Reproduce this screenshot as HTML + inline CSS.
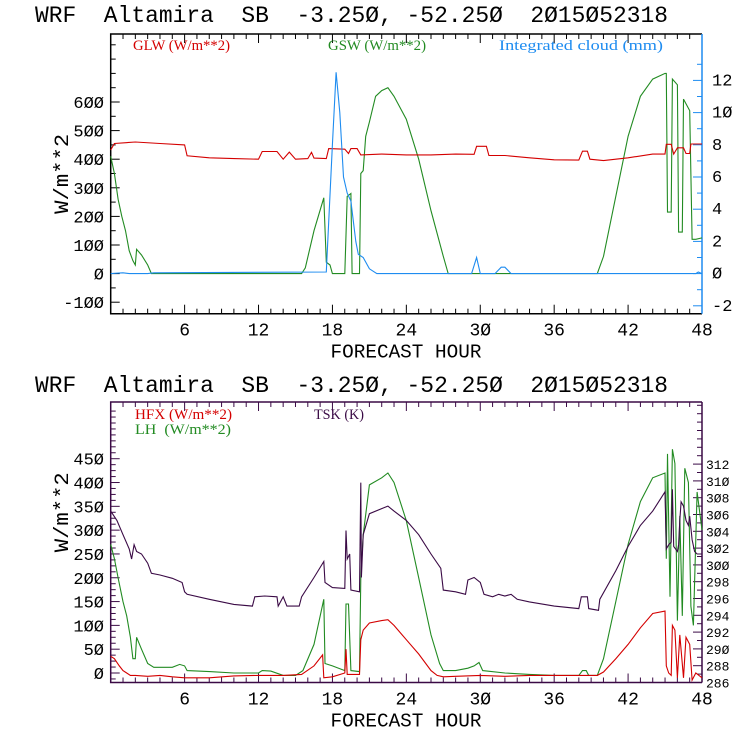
<!DOCTYPE html>
<html><head><meta charset="utf-8"><style>
html,body{margin:0;padding:0;background:#fff;}
svg{display:block;}
text{font-family:"Liberation Mono",monospace;}
.lg{font-family:"Liberation Serif",serif;font-size:15px;}
</style></head><body>
<svg id="c" width="740" height="740" viewBox="0 0 740 740" xmlns="http://www.w3.org/2000/svg"></svg>
<script>
// ---- top panel data (hour, value) ----
const glwHours=[0,0.3,2,4,6,6.2,8,10,12,12.3,13.5,14,14.5,15,16,16.3,16.5,17.5,17.7,19,19.3,19.5,20,20.3,22,24,26,28,29.5,29.7,30.5,30.7,32,34,36,38,38.3,38.7,38.9,40,42,44,45,45.1,45.5,45.7,46,46.5,46.7,47,47.1,48];
const glwVals=[432,455,460,455,450,412,405,402,400,427,427,400,425,400,402,424,404,402,437,435,420,437,437,415,418,415,415,418,417,445,445,413,413,405,398,397,428,428,400,395,405,418,418,452,452,418,440,440,420,420,453,453];
const gswHours=[0,0.3,0.6,0.9,1.2,1.5,1.8,2,2.1,2.5,3,3.3,15.5,15.8,16.5,17.3,17.5,17.8,18,19,19.2,19.5,19.6,20.2,20.3,20.5,20.7,21,21.5,22,22.5,23,24,25,26,27,27.4,39.5,40,41,42,43,44,45,45.1,45.2,45.5,45.6,46,46.1,46.4,46.5,47,47.2,47.5,48];
const gswVals=[410,350,260,200,150,80,45,30,85,65,30,0,0,20,150,265,40,30,0,0,270,280,0,0,350,360,480,530,620,640,650,620,540,400,220,60,0,0,60,270,480,620,680,700,700,215,215,680,660,145,145,610,570,120,120,125];
const cloudHours=[0,1,1.5,3,3.5,17.5,18,18.3,18.6,18.9,19.2,19.5,19.9,20.1,20.5,21,21.6,29.3,29.7,30,31.2,31.7,32,32.5,47.5,47.7,48];
const cloudVals=[0,0.05,0,0,0.05,0.1,8,12.5,10,6,5,4.5,2,1.2,1,0.3,0,0,1,0,0,0.4,0.4,0,0,0.1,0];
// ---- bottom panel data ----
const tskHours=[0,0.5,1,1.5,1.7,1.9,2.1,2.5,3,3.3,4,5,5.8,6,6.2,8,10,11.5,11.7,12.5,13.5,13.6,14,14.3,15.3,15.5,16.5,17.3,17.4,18,19,19.1,19.2,19.4,19.5,20.2,20.3,20.35,20.5,21,22,22.5,23,24,25,26,26.8,27,28,28.8,29,29.5,30,30.3,31,31.5,32,32.5,33,34,36,38,38.2,38.7,38.8,39.6,39.7,41,42,43,44,45,45.1,45.3,45.5,45.6,45.7,46,46.1,46.2,46.3,46.5,46.7,46.9,47,47.2,47.4,47.6,48];
const tskVals=[306.4,305.3,303.6,301.9,300.7,302.4,301.6,301.3,300.2,299.0,298.8,298.4,297.9,296.8,296.5,295.9,295.3,295.1,296.2,296.3,296.2,295.1,296.2,295.1,295.1,296.2,298.5,300.4,297.9,297.3,297.2,304.1,300.7,301.3,297.0,296.8,309.8,298.5,303.6,306.1,306.7,307.0,306.4,305.3,303.6,301.3,299.6,297.0,296.8,296.5,298.2,298.5,297.9,296.5,296.2,296.5,296.3,296.5,295.9,295.6,295.1,294.8,296.2,296.2,294.8,294.6,295.9,299.3,302.2,304.7,306.4,308.7,301.9,302.4,302.7,309.0,302.2,301.6,302.4,305.3,307.5,307.0,305.3,304.7,305.8,303.0,301.6,301.3,301.3];
const hfxHours=[0,0.3,0.7,1,1.3,1.6,2,3,4,5,6,8,10,12,14,15.5,16.5,17.2,17.3,18,19,19.1,19.2,20.2,20.3,20.5,21,22,22.5,23,24,25,26,26.5,27,28,30,32,34,36,38,39.5,40,41,42,43,44,45,45.1,45.3,45.5,45.6,45.8,46,46.2,46.5,46.7,47,47.2,47.5,48];
const hfxVals=[35,30,15,5,0,-5,-5,-7,-5,-8,-10,-10,-6,-5,-5,-3,15,38,-10,-8,0,50,-3,-3,70,90,105,110,112,100,70,40,5,-5,-8,-7,-5,-7,-5,-5,-5,-5,2,30,60,95,125,130,15,0,-5,100,90,-10,80,-10,75,60,-15,0,-10];
const lhHours=[0,0.3,0.6,1,1.3,1.6,1.8,2,2.1,2.5,3,3.5,5,5.6,6,6.2,8,10,12,12.3,13,14,15,15.6,16.5,17.3,17.4,18,19,19.1,19.3,19.5,20.2,20.3,20.5,21,22,22.5,23,24,25,26,26.7,27,28,29,29.5,29.9,30.2,32,34,36,38,38.3,38.6,38.8,39.5,40,41,42,43,44,45,45.1,45.2,45.4,45.6,45.8,46,46.2,46.4,46.6,46.9,47.1,47.3,47.6,48];
const lhVals=[270,240,200,150,120,75,30,30,75,50,20,12,12,18,15,5,3,0,0,5,4,-5,-5,5,60,155,20,15,5,145,145,5,3,200,290,395,410,420,400,320,200,80,20,5,5,10,15,22,5,0,-3,-5,-5,5,5,-5,-5,30,150,270,360,410,420,240,460,160,470,440,110,330,120,430,400,140,100,380,300];
const xTicks=[6,12,18,24,30,36,42,48];
const topLeftTicks=[-100,0,100,200,300,400,500,600];
const topRightTicks=[-2,0,2,4,6,8,10,12];
const botLeftTicks=[0,50,100,150,200,250,300,350,400,450];
const botRightTicks=[286,288,290,292,294,296,298,300,302,304,306,308,310,312];

const NS='http://www.w3.org/2000/svg';
const svg=document.getElementById('c');
function mk(tag,attrs,parent){const e=document.createElementNS(NS,tag);for(const k in attrs)e.setAttribute(k,attrs[k]);(parent||svg).appendChild(e);return e;}
const X0=110.7,X1=702;
const xs=h=>X0+(X1-X0)*h/48;
const T={top:34,bot:313.7};
const yTL=v=>273.6-0.286*v;
const yTR=v=>273.6-16.1*v;
const B={top:402,bot:682.5};
const yBL=v=>673-0.4762*v;
const yBR=v=>682.5-8.4*(v-286);

function line(hours,vals,ys,color,name){
  const pts=hours.map((h,i)=>xs(h).toFixed(1)+','+ys(vals[i]).toFixed(1)).join(' ');
  const p=mk('polyline',{points:pts,fill:'none',stroke:color,'stroke-width':1.1});
  
  
}
function txt(x,y,s,attrs,name){const t=mk('text',Object.assign({x:x,y:y},attrs));t.textContent=s;
  
  return t;}

function panel(P,yl,yr,lt,rt,rcol,leftMinor,lmin,lmax,rightMinor,rmin,rmax,pfx,rfs,rx){
  const g=mk('g',{});
  
  
  const fc=pfx==='top'?'#000':'#3a0a45';
  mk('path',{d:`M${X1},${P.top} H${X0} V${P.bot} H${X1}`,fill:'none',stroke:fc,'stroke-width':1.5},g);
  mk('line',{x1:X1,y1:P.top,x2:X1,y2:P.bot,stroke:rcol,'stroke-width':1.5},g);
  for(let h=1;h<48;h++){const major=h%6===0;const L=major?9:5;
    mk('line',{x1:xs(h),y1:P.bot,x2:xs(h),y2:P.bot-L,stroke:fc,'stroke-width':1},g);
    mk('line',{x1:xs(h),y1:P.top,x2:xs(h),y2:P.top+L,stroke:fc,'stroke-width':1},g);}
  for(let v=lmin;v<=lmax;v+=leftMinor){const y=yl(v);if(y<P.top+1||y>P.bot-1)continue;
    const major=lt.includes(v);mk('line',{x1:X0,y1:y,x2:X0+(major?9:5),y2:y,stroke:fc,'stroke-width':1},g);}
  for(let v=rmin;v<=rmax;v+=rightMinor){const y=yr(v);if(y<P.top+1||y>P.bot-1)continue;
    const major=rt.includes(v);mk('line',{x1:X1,y1:y,x2:X1-(major?9:5),y2:y,stroke:rcol,'stroke-width':1},g);}
  xTicks.forEach(h=>txt(xs(h),P.bot+22,String(h).replace(/0/g,'Ø'),{'font-size':18,'text-anchor':'middle'},pfx+'-x-tick-label'));
  lt.forEach(v=>txt(104,yl(v)+6,String(v).replace(/0/g,'Ø'),{'font-size':17,'text-anchor':'end'},pfx+'-left-tick-label'));
  rt.forEach(v=>txt(rx,yr(v)+5,String(v).replace(/0/g,'Ø'),{'font-size':rfs},pfx+'-right-tick-label'));
  txt(406,P.bot+44,'FORECAST HOUR',{'font-size':19,'text-anchor':'middle',textLength:151,lengthAdjust:'spacingAndGlyphs'},pfx+'-x-axis-title');
  const cy=(P.top+P.bot)/2+(pfx==='top'?0:-30);
  txt(0,0,'W/m**2',{'font-size':20,'text-anchor':'middle',transform:`translate(68,${cy}) rotate(-90)`,textLength:80,lengthAdjust:'spacingAndGlyphs'},pfx+'-y-axis-title');
}
const title='WRF  Altamira  SB  -3.25Ø, -52.25Ø  2Ø15Ø52318';
txt(35,22,title,{'font-size':23,textLength:633,lengthAdjust:'spacingAndGlyphs',style:'white-space:pre'},'top-title');
txt(35,392,title,{'font-size':23,textLength:633,lengthAdjust:'spacingAndGlyphs',style:'white-space:pre'},'bottom-title');

panel(T,yTL,yTR,topLeftTicks,topRightTicks,'#1e8cf0',50,-100,800,1,-2,13,'top',17,712);
panel(B,yBL,yBR,botLeftTicks,botRightTicks,'#3a0a45',12.5,-12.5,550,1,286,320,'bottom',13,706);

txt(133,50,'GLW (W/m**2)',{class:'lg',fill:'#d40000',textLength:97,lengthAdjust:'spacingAndGlyphs'},'legend-glw');
txt(328,50,'GSW (W/m**2)',{class:'lg',fill:'#228b22',textLength:98,lengthAdjust:'spacingAndGlyphs'},'legend-gsw');
txt(499,50,'Integrated cloud (mm)',{class:'lg',fill:'#1e8cf0',textLength:164,lengthAdjust:'spacingAndGlyphs'},'legend-cloud');
txt(135,419,'HFX (W/m**2)',{class:'lg',fill:'#d40000',textLength:97,lengthAdjust:'spacingAndGlyphs'},'legend-hfx');
txt(135,434,'LH  (W/m**2)',{class:'lg',fill:'#228b22',textLength:96,lengthAdjust:'spacingAndGlyphs',style:'white-space:pre'},'legend-lh');
txt(314,419,'TSK (K)',{class:'lg',fill:'#3a0a45',textLength:50,lengthAdjust:'spacingAndGlyphs'},'legend-tsk');

line(gswHours,gswVals,yTL,'#228b22','gsw-line');
line(glwHours,glwVals,yTL,'#d40000','glw-line');
line(cloudHours,cloudVals,yTR,'#1e8cf0','cloud-line');
line(lhHours,lhVals,yBL,'#228b22','lh-line');
line(tskHours,tskVals,yBR,'#3a0a45','tsk-line');
line(hfxHours,hfxVals,yBL,'#d40000','hfx-line');
</script>
</body></html>
